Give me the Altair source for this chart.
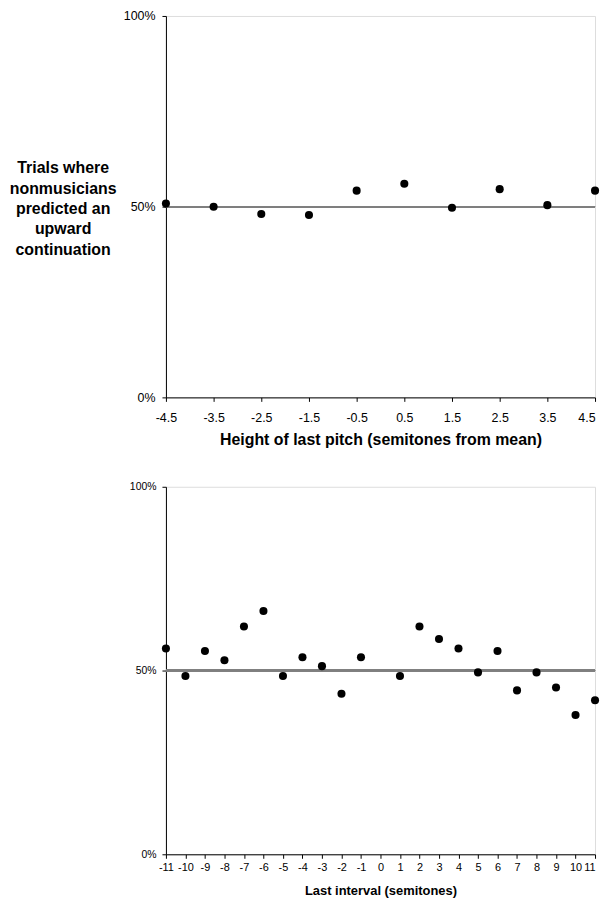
import altair as alt
import pandas as pd

# Top panel: height of last pitch (semitones from mean)
pitch_x = [-4.5, -3.5, -2.5, -1.5, -0.5, 0.5, 1.5, 2.5, 3.5, 4.5]
pitch_pct = [0.508, 0.500, 0.481, 0.478, 0.542, 0.560, 0.497, 0.546, 0.504, 0.542]

# Bottom panel: last interval (semitones)
interval_x = [-11, -10, -9, -8, -7, -6, -5, -4, -3, -2, -1,
              1, 2, 3, 4, 5, 6, 7, 8, 9, 10, 11]
interval_pct = [0.560, 0.485, 0.553, 0.528, 0.620, 0.662, 0.485, 0.536, 0.512, 0.437, 0.536,
                0.485, 0.620, 0.586, 0.560, 0.495, 0.553, 0.446, 0.495, 0.454, 0.379, 0.419]

pitch_ticks = [-4.5, -3.5, -2.5, -1.5, -0.5, 0.5, 1.5, 2.5, 3.5, 4.5]
interval_ticks = list(range(-11, 12))
y_ticks = [0, 0.5, 1.0]

df_top = pd.DataFrame({"x": pitch_x, "y": pitch_pct})
df_bot = pd.DataFrame({"x": interval_x, "y": interval_pct})

FONT = "Liberation Sans, Arial, sans-serif"

y_title = ["Trials where", "nonmusicians", "predicted an", "upward", "continuation"]


def panel(df, ticks, xdomain, xtitle, w, h, xlab_size, xlab_pad, xtitle_size, xtitle_pad,
          ylab_size, ylab_pad, ytitle):
    yargs = dict(values=y_ticks, format=".0%", grid=False, domainColor="black",
                 tickColor="black", tickSize=4, labelFont=FONT, labelFontSize=ylab_size,
                 labelColor="black", labelPadding=ylab_pad)
    if ytitle:
        yaxis = alt.Axis(title=ytitle, titleAngle=0, titleFont=FONT, titleFontSize=16,
                         titleFontWeight="bold", titleColor="black", titleAlign="center",
                         titleBaseline="top", titleX=-104, titleY=145,
                         titleLineHeight=20.5, **yargs)
    else:
        yaxis = alt.Axis(title=None, **yargs)
    last = max(ticks)
    pts = alt.Chart(df).mark_circle(size=66, color="black", opacity=1).encode(
        x=alt.X("x:Q", scale=alt.Scale(domain=xdomain, nice=False, zero=False),
                axis=alt.Axis(values=ticks, labelExpr="toString(datum.value)", grid=False,
                              domainColor="black", tickColor="black", tickSize=4,
                              labelFont=FONT, labelFontSize=xlab_size, labelColor="black",
                              labelPadding=xlab_pad, labelFlush=False, labelOverlap=False,
                              labelAlign={"condition": {"test": f"datum.value >= {last}",
                                                        "value": "right"},
                                          "value": "center"},
                              title=xtitle, titleFont=FONT, titleFontSize=xtitle_size,
                              titleFontWeight="bold", titleColor="black",
                              titlePadding=xtitle_pad)),
        y=alt.Y("y:Q", scale=alt.Scale(domain=[0, 1], nice=False), axis=yaxis),
    )
    rule = alt.Chart(df).mark_rule(color="#7f7f7f", strokeWidth=1.6).encode(
        y=alt.datum(0.5))
    return alt.layer(rule, pts).properties(width=w, height=h)


top = panel(df_top, pitch_ticks, [-4.5, 4.5], "Height of last pitch (semitones from mean)",
            432, 384, 12.5, 10, 16, 8, 12.5, 7, y_title)
bot = panel(df_bot, interval_ticks, [-11, 11], "Last interval (semitones)",
            432, 370, 11, 3, 13, 12, 10.5, 6, None)

chart = alt.vconcat(top, bot, spacing=33).properties(
    padding={"left": 0, "top": -2, "right": 0, "bottom": 0}
).configure_view(stroke="#808080", strokeWidth=1).configure(background="white")

chart.save("out.html", embed_options={"renderer": "svg", "actions": False})
